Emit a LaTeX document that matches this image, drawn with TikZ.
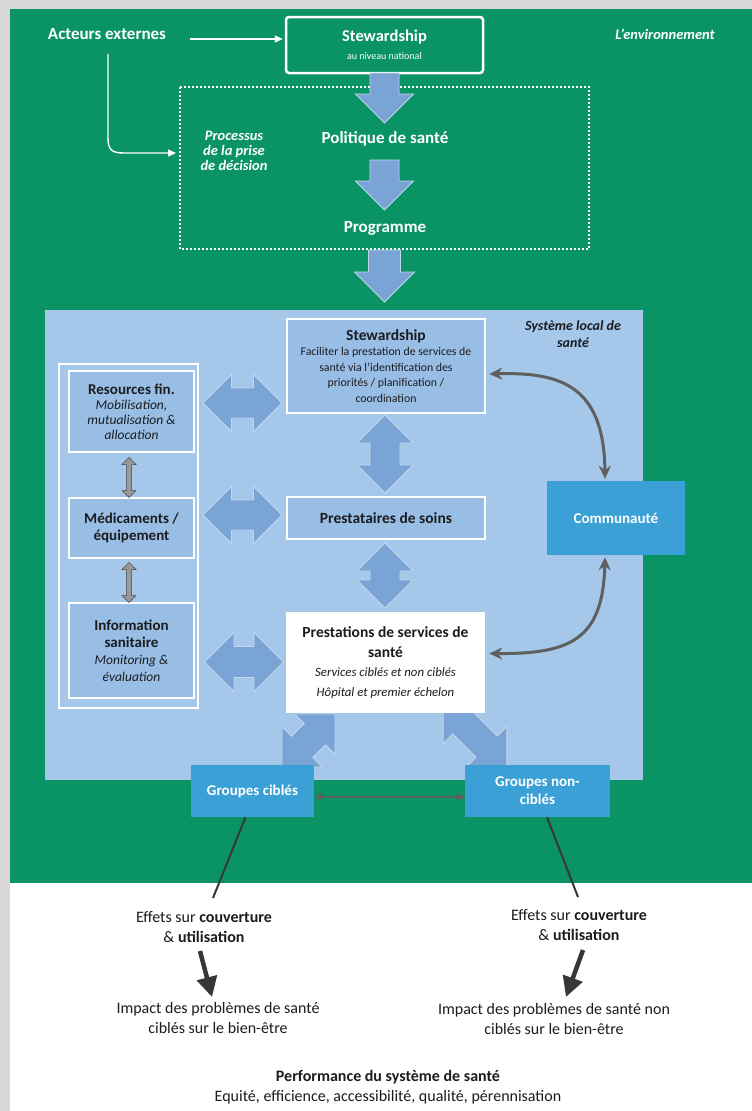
\documentclass[tikz,border=0pt]{standalone}
\usepackage{fontspec}
\setmainfont{Carlito}
\usetikzlibrary{arrows.meta}
\definecolor{bggray}{RGB}{216,216,216}
\definecolor{envgreen}{RGB}{10,148,102}
\definecolor{lblue}{RGB}{165,200,234}
\definecolor{boxblue}{RGB}{152,190,229}
\definecolor{arrblue}{RGB}{122,164,213}
\definecolor{midblue}{RGB}{58,160,214}
\definecolor{dgray}{RGB}{95,95,95}
\definecolor{darkline}{RGB}{55,55,55}
\definecolor{txtdark}{RGB}{28,28,32}
\newcommand\myfs[2]{\fontsize{#1}{#2}\selectfont}
% block double arrow: center, angle, length, total width, shaft width, style
\newcommand\blkdbl[6]{%
  \begin{scope}[shift={(#1)},rotate=#2]
    \pgfmathsetmacro\hL{#3/2}\pgfmathsetmacro\hW{#4/2}%
    \pgfmathsetmacro\hS{#5/2}\pgfmathsetmacro\hH{#3/2-#4/2}%
    \filldraw[#6] (-\hL,0) -- (-\hH,\hW) -- (-\hH,\hS) -- (\hH,\hS) -- (\hH,\hW) -- (\hL,0)
      -- (\hH,-\hW) -- (\hH,-\hS) -- (-\hH,-\hS) -- (-\hH,-\hW) -- cycle;
  \end{scope}}
% block single arrow: center, angle, length, total width, shaft width, style
\newcommand\blksgl[6]{%
  \begin{scope}[shift={(#1)},rotate=#2]
    \pgfmathsetmacro\hL{#3/2}\pgfmathsetmacro\hW{#4/2}%
    \pgfmathsetmacro\hS{#5/2}\pgfmathsetmacro\hH{#3/2-#4/2}%
    \filldraw[#6] (-\hL,\hS) -- (\hH,\hS) -- (\hH,\hW) -- (\hL,0) -- (\hH,-\hW) -- (\hH,-\hS)
      -- (-\hL,-\hS) -- cycle;
  \end{scope}}
\begin{document}
\begin{tikzpicture}[x=1pt,y=-1pt,
  wlabel/.style={text=white,font=\myfs{17}{19}\bfseries,inner sep=0pt},
  wital/.style={text=white,font=\myfs{14.5}{15}\bfseries\itshape,align=center,inner sep=0pt},
  natbox/.style={draw=white,line width=2.5pt,rounded corners=3pt,fill=envgreen,text=white,align=center,inner sep=0pt},
  inbox/.style={draw=white,line width=2.5pt,fill=boxblue,text=txtdark,align=center,inner sep=0pt},
  medbox/.style={fill=midblue,text=white,align=center,inner sep=0pt,font=\myfs{15}{18}\bfseries},
  blkarrow/.style={fill=arrblue,draw=arrblue!45!white,line width=0.9pt,line join=miter},
  graysmall/.style={fill=gray!80!white,draw=gray!55!black,line width=0.5pt},
  warrow/.style={draw=white,line width=1.4pt,-{Triangle[length=8pt,width=7pt]}},
  garrow/.style={draw=dgray,line width=3pt,{Stealth[length=13pt,width=12pt]}-{Stealth[length=13pt,width=12pt]}},
  garrowthin/.style={draw=dgray,line width=2.5pt,{Triangle[length=8pt,width=8pt]}-{Triangle[length=8pt,width=8pt]}},
  darr/.style={draw=darkline,line width=4.5pt,-{Triangle[length=20pt,width=20pt]}},
  dline/.style={draw=darkline,line width=2pt},
  btext/.style={text=txtdark,align=center,font=\myfs{16}{20},inner sep=0pt}
]
\useasboundingbox (0,0) rectangle (752,1111);
\fill[bggray] (0,0) rectangle (752,1111);
\fill[white] (10,883) rectangle (752,1111);
\fill[envgreen] (10,9) rectangle (752,883);

% ---------- national level ----------
\draw[white,line width=1.2pt,dash pattern=on 2pt off 2pt] (180,87) rectangle (589,249);
\node[wlabel] (acteurs) at (107,34) {Acteurs externes};
\node[wital] (env) at (665,34) {L’environnement};
\node[natbox,minimum width=197pt,minimum height=56pt,font=\myfs{10}{18}] (natsteward) at (384.5,45)
  {{\myfs{16.5}{19}\bfseries Stewardship}\\{\myfs{10}{12}au niveau national}};
\node[wlabel] (politique) at (385,139) {Politique de santé};
\node[wlabel] (programme) at (385,228) {Programme};
\node[wital] (processus) at (234,151) {Processus\\de la prise\\de décision};

\draw[warrow] ([shift={(24,5)}]acteurs.east) -- ([shift={(-2,-6)}]natsteward.west);
\coordinate (procin) at (176,153);
\draw[warrow] ([shift={(1,14)}]acteurs.south) -- (108,138) .. controls (108,150) and (112,153) .. (124,153) -- (procin);

\blksgl{384.5,98}{-90}{50}{58}{29}{blkarrow}
\blksgl{384.5,185}{-90}{50}{58}{29}{blkarrow}
\blksgl{384.5,276}{-90}{52}{60}{32}{blkarrow}

% ---------- local system ----------
\node[fill=lblue,minimum width=598pt,minimum height=470pt,inner sep=0pt] (localsys) at (344,545) {};
\node[text=txtdark,font=\myfs{14}{17}\bfseries\itshape,align=center,inner sep=0pt] (slabel) at (573,334) {Système local de\\santé};

\draw[white,line width=2pt] (59,364) rectangle (198,708);

% diagonal arrows (behind boxes)
\blkdbl{308.5,740.5}{45}{75}{57}{30}{blkarrow}
\blkdbl{475,735}{-45}{90}{57}{30}{blkarrow}

\node[inbox,minimum width=125pt,minimum height=81pt,font=\myfs{13.5}{15}] (resfin) at (131.5,411.5)
  {{\myfs{15}{17}\bfseries Resources fin.}\\{\itshape Mobilisation,}\\{\itshape mutualisation \&}\\{\itshape allocation}};
\node[inbox,minimum width=125pt,minimum height=60pt,font=\myfs{15}{16.5}\bfseries] (medic) at (131.5,528)
  {Médicaments /\\équipement};
\node[inbox,minimum width=125pt,minimum height=95pt,font=\myfs{13.5}{17}] (info) at (131.5,650.5)
  {{\myfs{15}{17}\bfseries Information}\\{\myfs{15}{17}\bfseries sanitaire}\\{\itshape Monitoring \&}\\{\itshape évaluation}};

\blkdbl{129,477.5}{90}{40}{14}{5}{graysmall}
\blkdbl{129,582.5}{90}{40}{14}{5}{graysmall}

\node[inbox,minimum width=198pt,minimum height=94pt,font=\myfs{11.8}{15.5}] (stewloc) at (386,366)
  {{\myfs{15.5}{18}\bfseries Stewardship}\\Faciliter la prestation de services de\\santé via l’identification des\\priorités / planification /\\coordination};
\node[inbox,minimum width=198pt,minimum height=42pt,font=\myfs{15.5}{18}\bfseries] (prestataires) at (386,518) {Prestataires de soins};
\node[inbox,fill=white,minimum width=197pt,minimum height=99pt,font=\myfs{12.8}{19.5}] (prest) at (385.5,662.5)
  {{\myfs{15.5}{18}\bfseries Prestations de services de}\\{\myfs{15.5}{18}\bfseries santé}\\{\itshape Services ciblés et non ciblés}\\{\itshape Hôpital et premier échelon}};

\blkdbl{242.5,403}{0}{79}{57}{30}{blkarrow}
\blkdbl{242.5,515}{0}{79}{57}{30}{blkarrow}
\blkdbl{244,662}{0}{79}{59}{31}{blkarrow}
\blkdbl{385,454}{90}{78}{56}{30}{blkarrow}
\blkdbl{385,575.5}{90}{65}{56}{30}{blkarrow}

\node[medbox,minimum width=138pt,minimum height=74pt] (comm) at (616,518) {Communauté};
\node[medbox,minimum width=123pt,minimum height=52pt] (gcib) at (252.5,791) {Groupes ciblés};
\node[medbox,minimum width=145pt,minimum height=52pt] (gnon) at (537.5,791) {Groupes non-\\ciblés};

\draw[garrow] ([shift={(3,8)}]stewloc.east) .. controls (560,372) and (604,385) .. ([shift={(-11,-2)}]comm.north);
\draw[garrow] ([shift={(-11,2)}]comm.south) .. controls (603,640) and (570,654) .. ([shift={(4,-9)}]prest.east);
\draw[garrowthin] ([shift={(0,6)}]gcib.east) -- ([shift={(0,6)}]gnon.west);

% ---------- outcomes ----------
\node[btext] (eff1) at (204,927) {Effets sur \textbf{couverture}\\\& \textbf{utilisation}};
\node[btext] (eff2) at (579,925) {Effets sur \textbf{couverture}\\\& \textbf{utilisation}};
\node[btext] (imp1) at (218,1018) {Impact des problèmes de santé\\ciblés sur le bien-être};
\node[btext] (imp2) at (554,1019) {Impact des problèmes de santé non\\ciblés sur le bien-être};
\node[btext] (perf) at (388,1087) {\textbf{Performance du système de santé}\\Equité, efficience, accessibilité, qualité, pérennisation};

\coordinate (l1end) at (213,898);
\coordinate (l2end) at (578,897);
\draw[dline] ([shift={(-7,0)}]gcib.south) -- (l1end);
\draw[dline] ([shift={(9.5,0)}]gnon.south) -- (l2end);

\coordinate (d1s) at (200,951);
\coordinate (d1e) at (212,997);
\coordinate (d2s) at (583,950);
\coordinate (d2e) at (566,997);
\draw[darr] (d1s) -- (d1e);
\draw[darr] (d2s) -- (d2e);
\end{tikzpicture}
\end{document}
